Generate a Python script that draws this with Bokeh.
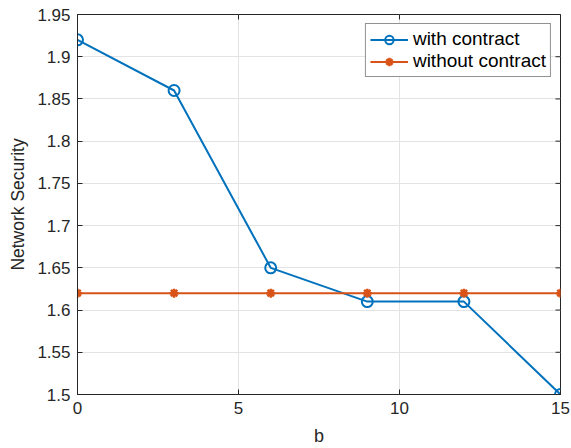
import math
from bokeh.plotting import figure
from bokeh.models import Range1d, FixedTicker, Legend, LegendItem
from bokeh.embed import file_html
from bokeh.resources import INLINE

b_values = [0, 3, 6, 9, 12, 15]
with_contract = [1.92, 1.86, 1.65, 1.61, 1.61, 1.50]
without_contract = [1.62, 1.62, 1.62, 1.62, 1.62, 1.62]
x_ticks = [0, 5, 10, 15]
y_ticks = [1.5, 1.55, 1.6, 1.65, 1.7, 1.75, 1.8, 1.85, 1.9, 1.95]
y_tick_labels = ["1.5", "1.55", "1.6", "1.65", "1.7", "1.75", "1.8", "1.85", "1.9", "1.95"]
x_min, x_max = 0, 15
y_min, y_max = 1.5, 1.95

BLUE = "#0072BD"
ORANGE = "#D95319"
AX = "#262626"
FONT = "Liberation Sans"

p = figure(width=571, height=448, output_backend="svg", toolbar_location=None,
           x_range=Range1d(x_min, x_max), y_range=Range1d(y_min, y_max),
           min_border_left=77, min_border_right=11, min_border_top=14, min_border_bottom=54)

for ax in (p.xaxis[0], p.yaxis[0]):
    ax.major_tick_in = 5
    ax.major_tick_out = 0
    ax.minor_tick_in = 0
    ax.minor_tick_out = 0
    ax.axis_line_color = AX
    ax.major_tick_line_color = AX
    ax.major_label_text_font = FONT
    ax.major_label_text_font_size = "17px"
    ax.major_label_text_color = AX
    ax.axis_label_text_font = FONT
    ax.axis_label_text_font_style = "normal"
    ax.axis_label_text_color = AX

p.xaxis.ticker = FixedTicker(ticks=x_ticks)
p.yaxis.ticker = FixedTicker(ticks=y_ticks)
p.yaxis.major_label_overrides = {t: l for t, l in zip(y_ticks, y_tick_labels)}
p.xaxis.axis_label = "b"
p.xaxis.axis_label_text_font_size = "18px"
p.xaxis.axis_label_standoff = 9
p.xaxis.major_label_standoff = 7
p.yaxis.axis_label = "Network Security"
p.yaxis.axis_label_text_font_size = "17.5px"
p.yaxis.axis_label_standoff = 6
p.yaxis.major_label_standoff = 7

p.xgrid.ticker = FixedTicker(ticks=x_ticks)
p.ygrid.ticker = FixedTicker(ticks=y_ticks)
p.grid.grid_line_color = "#e3e3e3"
p.grid.grid_line_width = 1
p.outline_line_color = AX
p.outline_line_width = 1
p.background_fill_color = "white"
p.border_fill_color = "white"

# box ticks on the right and top edges (inward half is visible, outer half clipped)
p.scatter([x_max] * len(y_ticks), y_ticks, marker="dash", size=10, line_color=AX, line_width=1)
p.scatter(x_ticks, [y_max] * len(x_ticks), marker="dash", size=10, angle=math.pi / 2,
          line_color=AX, line_width=1)

l1 = p.line(b_values, with_contract, line_color=BLUE, line_width=2)
s1 = p.scatter(b_values, with_contract, marker="circle", size=11, line_color=BLUE,
               fill_color=None, line_width=2)
l2 = p.line(b_values, without_contract, line_color=ORANGE, line_width=2)
s2 = p.scatter(b_values, without_contract, marker="asterisk", size=9, line_color=ORANGE,
               line_width=2.5)

legend = Legend(items=[LegendItem(label="with contract", renderers=[l1, s1]),
                       LegendItem(label="without contract", renderers=[l2, s2])],
                location="top_right")
legend.label_text_font = FONT
legend.label_text_font_size = "19px"
legend.label_text_color = "black"
legend.border_line_color = AX
legend.border_line_width = 1
legend.glyph_width = 38
legend.label_standoff = 5
legend.padding = 4
legend.spacing = 0
legend.margin = 9
legend.label_height = 21
legend.glyph_height = 21
p.add_layout(legend)

open("out.html", "w").write(file_html(p, INLINE))
